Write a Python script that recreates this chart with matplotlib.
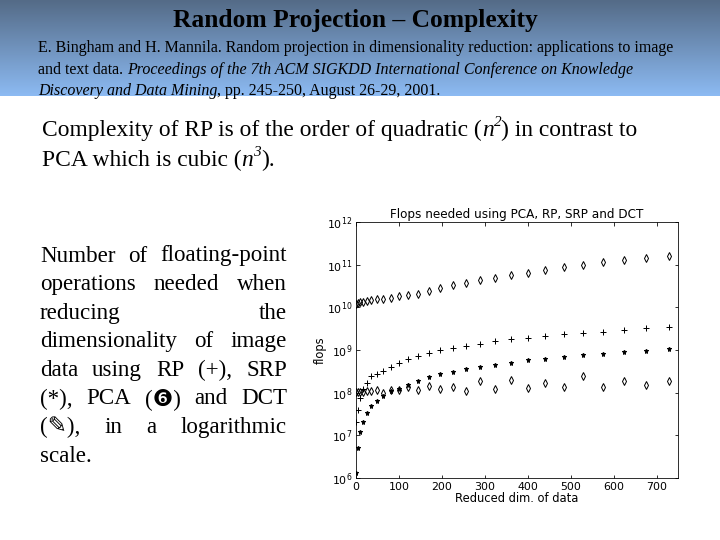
import numpy as np
import matplotlib.pyplot as plt

# ── Data (reduced dimension = k^2) ──────────────────────────────────────────
dims = [1, 4, 9, 16, 25, 36, 49, 64, 81, 100, 121, 144, 169, 196, 225, 256,
        289, 324, 361, 400, 441, 484, 529, 576, 625, 676, 729]
pca = [1.2e10, 1.25e10, 1.3e10, 1.35e10, 1.4e10, 1.5e10, 1.55e10, 1.6e10, 1.7e10,
       1.8e10, 1.95e10, 2.1e10, 2.4e10, 2.9e10, 3.3e10, 3.7e10, 4.3e10, 5.0e10,
       5.8e10, 6.5e10, 7.6e10, 9.0e10, 1.0e11, 1.15e11, 1.3e11, 1.45e11, 1.6e11]
rp = [2e7, 4e7, 7.5e7, 1.2e8, 1.7e8, 2.4e8, 2.8e8, 3.3e8, 4e8, 5e8, 6e8, 7.2e8,
      8.5e8, 9.8e8, 1.1e9, 1.25e9, 1.4e9, 1.6e9, 1.8e9, 1.95e9, 2.1e9, 2.35e9,
      2.5e9, 2.7e9, 2.95e9, 3.2e9, 3.5e9]
srp = [1.3e6, 5e6, 1.2e7, 2e7, 3.3e7, 4.8e7, 6.5e7, 8.5e7, 1.1e8, 1.25e8, 1.5e8,
       1.9e8, 2.3e8, 2.7e8, 3.1e8, 3.5e8, 4e8, 4.5e8, 5e8, 5.7e8, 6.2e8, 7e8,
       7.6e8, 8.2e8, 8.8e8, 9.5e8, 1.05e9]
dct = [1.05e8, 1.05e8, 1.05e8, 1.05e8, 1.1e8, 1.1e8, 1.15e8, 1.0e8, 1.15e8,
       1.15e8, 1.35e8, 1.15e8, 1.45e8, 1.2e8, 1.35e8, 1.1e8, 1.85e8, 1.2e8,
       1.95e8, 1.3e8, 1.7e8, 1.35e8, 2.5e8, 1.35e8, 1.9e8, 1.55e8, 1.9e8]

serif = ["Liberation Serif", "DejaVu Sans"]
fig = plt.figure(figsize=(10, 7.5), dpi=72)
fig.canvas.draw()
rend = fig.canvas.get_renderer()

# ── Header gradient ─────────────────────────────────────────────────────────
hdr = fig.add_axes([0, 1 - 96 / 540, 1, 96 / 540])
top = np.array([0.33, 0.42, 0.53])
bot = np.array([0.55, 0.73, 0.95])
grad = np.linspace(0, 1, 100)[:, None, None] * (bot - top) + top
hdr.imshow(np.repeat(grad, 2, axis=1), aspect="auto", extent=[0, 1, 0, 1])
hdr.axis("off")

def px(x, y):
    return x / 720, 1 - y / 540

def run(x, y, parts, size):
    # place (text, style[, scale, raise]) segments one after another on a line
    for p in parts:
        s, st = p[0], p[1]
        k = p[2] if len(p) > 2 else 1.0
        dy = p[3] if len(p) > 3 else 0
        t = fig.text(*px(x, y - dy), s, fontfamily=serif, fontsize=size * k,
                     va="center", style=st)
        x += t.get_window_extent(rend).width

fig.text(*px(355, 20), "Random Projection – Complexity", fontfamily=serif,
         fontsize=25.5, fontweight="bold", ha="center", va="center")
run(38, 48, [("E. Bingham and H. Mannila. Random projection in dimensionality "
              "reduction: applications to image", "normal")], 16)
run(38, 70, [("and text data. ", "normal"),
             ("Proceedings of the 7th ACM SIGKDD International Conference on Knowledge", "italic")], 16)
run(38, 91, [("Discovery and Data Mining", "italic"),
             (", pp. 245-250, August 26-29, 2001.", "normal")], 16)

run(42, 130, [("Complexity of RP is of the order of quadratic (", "normal"),
              ("n", "italic"), ("2", "italic", 0.65, 7),
              (") in contrast to", "normal")], 23.5)
run(42, 160, [("PCA which is cubic (", "normal"), ("n", "italic"),
              ("3", "italic", 0.65, 7), (").", "normal")], 23.5)

# ── Justified paragraph ─────────────────────────────────────────────────────
lines = ["Number of floating-point", "operations needed when", "reducing the",
         "dimensionality of image", "data using RP (+), SRP",
         "(*), PCA (❻) and DCT", "(✎), in a logarithmic", "scale."]
x0, x1 = 40, 287
for i, line in enumerate(lines):
    y = 256 + i * 28.6
    words = line.split(" ")
    if i == len(lines) - 1:
        fig.text(*px(x0, y), line, fontfamily=serif, fontsize=23, va="center")
        continue
    objs = [fig.text(*px(x0, y), w, fontfamily=serif, fontsize=23, va="center") for w in words]
    widths = [o.get_window_extent(rend).width for o in objs]
    gap = (x1 - x0 - sum(widths)) / (len(words) - 1)
    xx = x0
    for o, w in zip(objs, widths):
        o.set_position(px(xx, y))
        xx += w + gap

# ── Chart ───────────────────────────────────────────────────────────────────
ax = fig.add_axes([356 / 720, 1 - 478 / 540, 322 / 720, 256 / 540])
ms = dict(color="black", linestyle="none")
ax.plot(dims, pca, marker="d", mfc="none", markersize=5, **ms)
ax.plot(dims, rp, marker="+", markersize=6, **ms)
ax.plot(dims, srp, marker="*", markersize=5, **ms)
ax.plot(dims, dct, marker="d", mfc="none", markersize=5, **ms)
ax.set_yscale("log")
ax.set_ylim(1e6, 1e12)
ax.set_xlim(0, 750)
ax.set_xticks(range(0, 701, 100))
ax.tick_params(labelsize=11, direction="in", top=True, right=True, which="both")
ax.minorticks_off()
ax.set_title("Flops needed using PCA, RP, SRP and DCT", fontsize=12, pad=4)
ax.set_xlabel("Reduced dim. of data", fontsize=11.5, labelpad=0)
ax.set_ylabel("flops", fontsize=11.5, labelpad=0)

fig.savefig("out.png", dpi=72)
